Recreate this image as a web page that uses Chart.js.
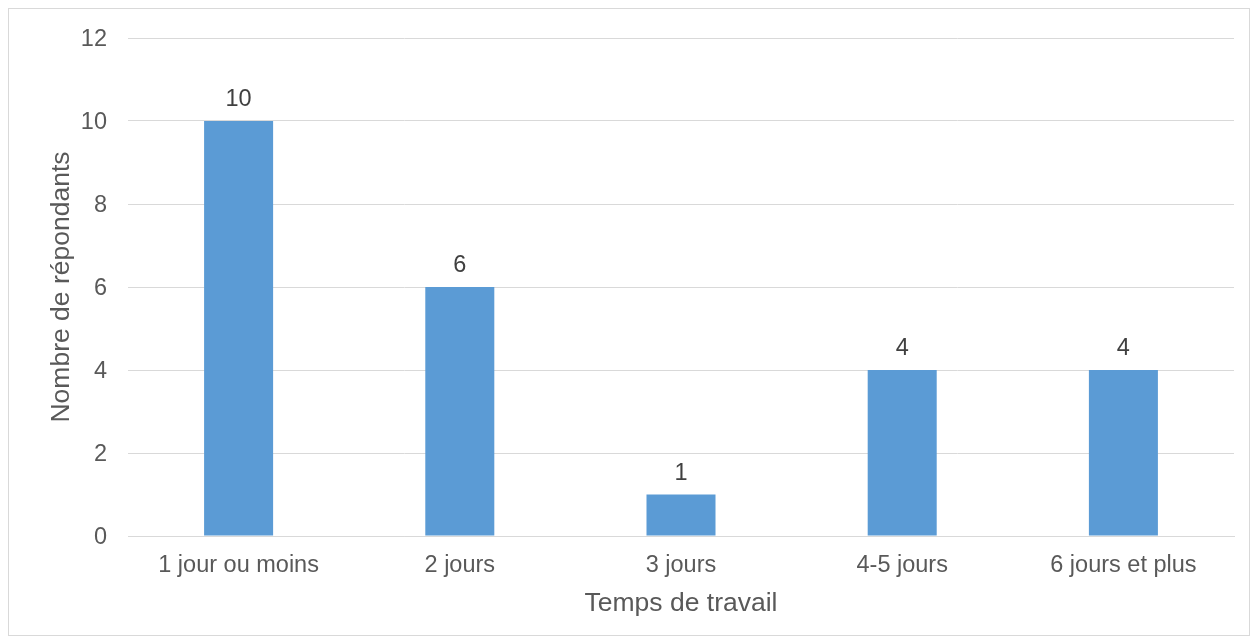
<!DOCTYPE html>
<html>
<head>
<meta charset="utf-8">
<script src="https://cdn.jsdelivr.net/npm/chart.js@4"></script>
<style>
  body { margin: 0; background: #fff; }
  #cadre { position: absolute; left: 8px; top: 8px; width: 1242px; height: 628px; border: 1px solid #d9d9d9; box-sizing: border-box; }
</style>
</head>
<body>
<div id="cadre"><canvas id="grafico"></canvas></div>
<script>
const categories = ["1 jour ou moins", "2 jours", "3 jours", "4-5 jours", "6 jours et plus"];
const repondants = [10, 6, 1, 4, 4];
const ticksY = [0, 2, 4, 6, 8, 10, 12];

const police = "'Liberation Sans', Arial, sans-serif";

// étiquettes de valeur au-dessus des barres
const etiquettes = {
    id: 'etiquettes',
    afterDatasetsDraw(chart) {
        const ctx = chart.ctx;
        const meta = chart.getDatasetMeta(0);
        ctx.save();
        ctx.font = "23.5px " + police;
        ctx.fillStyle = "#404040";
        ctx.textAlign = "center";
        ctx.textBaseline = "alphabetic";
        meta.data.forEach((bar, i) => {
            ctx.fillText(String(repondants[i]), bar.x, bar.y - 15);
        });
        ctx.restore();
    }
};

const ctx = document.getElementById('grafico');
new Chart(ctx, {
    type: 'bar',
    data: {
        labels: categories,
        datasets: [{
            label: "Nombre de répondants",
            data: repondants,
            backgroundColor: "#5b9bd5",
            barPercentage: 0.312,
            categoryPercentage: 1
        }]
    },
    options: {
        responsive: true,
        maintainAspectRatio: false,
        animation: false,
        layout: { padding: { top: 29, right: 15, left: 0, bottom: 0 } },
        plugins: {
            legend: { display: false },
            tooltip: { enabled: false }
        },
        scales: {
            x: {
                grid: { display: false, drawTicks: false },
                border: { color: "#d9d9d9", width: 1 },
                ticks: { color: "#595959", font: { family: police, size: 23.5 }, padding: 15 },
                title: { display: true, text: "Temps de travail", color: "#595959",
                         font: { family: police, size: 26.5 }, padding: { top: 4, bottom: 15 } },
                afterFit: s => { s.height = 99; }
            },
            y: {
                min: 0,
                max: 12,
                afterBuildTicks: s => { s.ticks = ticksY.map(v => ({ value: v })); },
                grid: { color: "#d9d9d9", lineWidth: 1, drawTicks: true, tickLength: 13, tickColor: "rgba(0,0,0,0)" },
                border: { display: false },
                ticks: { color: "#595959", font: { family: police, size: 23.5 }, padding: 8, labelOffset: 2 },
                title: { display: true, text: "Nombre de répondants", color: "#595959",
                         font: { family: police, size: 26.5 }, padding: { top: 37, bottom: 0 } },
                afterFit: s => { s.width = 119; }
            }
        }
    },
    plugins: [etiquettes]
});
</script>
</body>
</html>
